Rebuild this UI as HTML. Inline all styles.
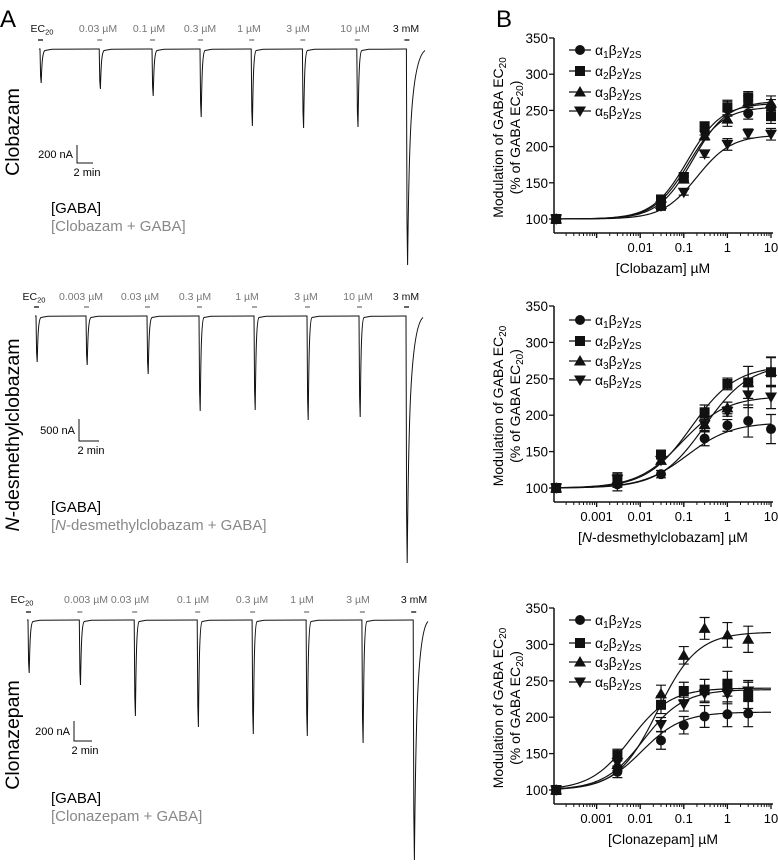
<!DOCTYPE html>
<html><head><meta charset="utf-8"><style>
html,body{margin:0;padding:0;background:#fff;}
svg{display:block;font-family:"Liberation Sans",sans-serif;}
</style></head><body>
<svg id="fig" width="778" height="865" viewBox="0 0 778 865" xmlns="http://www.w3.org/2000/svg">
<text x="0" y="27" font-size="24">A</text>
<text x="496" y="27" font-size="24">B</text>
</svg>
<script>
// ---------- Panel A trace data ----------
const row1Labels = ["EC20","0.03 µM","0.1 µM","0.3 µM","1 µM","3 µM","10 µM","3 mM"];
const row1Onsets = [0,7.4,14,20,26.4,32.8,39.6,45.8];
const row1Peaks = [378,444,522,755,855,877,866,2400];
const row2Labels = ["EC20","0.003 µM","0.03 µM","0.3 µM","1 µM","3 µM","10 µM","3 mM"];
const row2Onsets = [0,5,11.1,16.3,21.8,27.1,32.3,37];
const row2Peaks = [1045,1113,1318,2159,2136,2364,2295,5614];
const row3Labels = ["EC20","0.003 µM","0.03 µM","0.1 µM","0.3 µM","1 µM","3 µM","3 mM"];
const row3Onsets = [0,5.7,11.8,18.8,24.9,30.9,37.1,42.8];
const row3Peaks = [530,650,960,1070,1140,1160,1230,2400];

// ---------- Panel B chart data ----------
const c1Conc = [0.03,0.1,0.3,1,3,10];
const c1A1 = [118,158,222,252,246,255];
const c1A2 = [127,158,228,254,268,242];
const c1A3 = [120,155,215,238,262,260];
const c1A5 = [118,137,190,203,218,217];
const c1Err = [6,5,6,10,8,10];
const c1Top = [255,260,263,216];
const c1EC50 = [0.13,0.12,0.16,0.2];

const c2Conc = [0.003,0.03,0.3,1,3,10];
const c2A1 = [105,119,168,186,192,181];
const c2A2 = [110,146,204,243,245,259];
const c2A3 = [112,138,187,210,245,260];
const c2A5 = [112,138,187,205,228,225];
const c2Err = [9,5,10,8,22,20];
const c2Top = [190,268,270,226];
const c2EC50 = [0.12,0.15,0.3,0.09];

const c3Conc = [0.003,0.03,0.1,0.3,1,3];
const c3A1 = [125,168,189,201,204,205];
const c3A2 = [148,217,236,237,246,230];
const c3A3 = [135,232,285,322,313,307];
const c3A5 = [138,190,218,232,232,236];
const c3Err = [8,12,12,15,17,18];
const c3Top = [207,240,317,238];
const c3EC50 = [0.011,0.006,0.025,0.012];

const yTicks = [100,150,200,250,300,350];
const xTicks = [0.001,0.01,0.1,1,10];
const xTickLabels = ["0.001","0.01","0.1","1","10"];
const legendNames = ["1","2","3","5"];
const controlConc = 0.000118;

const NS = "http://www.w3.org/2000/svg";
const fig = document.getElementById("fig");
function mk(tag, attrs, parent){
  const e = document.createElementNS(NS, tag);
  for (const k in attrs) e.setAttribute(k, attrs[k]);
  (parent||fig).appendChild(e);
  return e;
}

// ---------- Traces ----------
const rows = [
  {labels:row1Labels,onsets:row1Onsets,peaks:row1Peaks,x0:40,pxMin:8,base:49,nApx:200/18,labY:32,barY:40,endX:425,lbl1:[42,98,149,200,249,298,355,406],
   scale:{nA:"200 nA",x:77,y1:145,len:18,w:16},title:"Clobazam",titleY:132,gaba:213,drug:"[Clobazam + GABA]",name:"clobazam"},
  {labels:row2Labels,onsets:row2Onsets,peaks:row2Peaks,x0:36,pxMin:10,base:316,nApx:500/22,labY:300,barY:307,endX:423,lbl1:[34,81,140,195,247,306,358,406],
   scale:{nA:"500 nA",x:79,y1:419,len:22,w:20},title:"N-desmethylclobazam",titleY:435,gaba:512,drug:"N",name:"desmethylclobazam"},
  {labels:row3Labels,onsets:row3Onsets,peaks:row3Peaks,x0:28,pxMin:9,base:620,nApx:10,labY:603,barY:612,endX:428,lbl1:[22,86,130,193,252,302,358,414],
   scale:{nA:"200 nA",x:74,y1:721,len:20,w:18},title:"Clonazepam",titleY:735,gaba:803,drug:"[Clonazepam + GABA]",name:"clonazepam"}
];
rows.forEach((r,ri)=>{
  const g = mk("g",{});
  
  
  let d = "";
  const n = r.onsets.length;
  for (let i=0;i<n;i++){
    const ox = r.x0 + r.onsets[i]*r.pxMin;
    const py = r.base + r.peaks[i]/r.nApx;
    const amp = py - r.base;
    if (i===0) d += "M"+(ox-1)+","+r.base;
    d += " L"+ox+","+r.base+" L"+(ox+0.6)+","+(r.base+amp*0.8)+" L"+(ox+1.2)+","+py;
    if (i<n-1){
      d += " C"+(ox+1.8)+","+(r.base+amp*0.5)+" "+(ox+2.2)+","+(r.base+3)+" "+(ox+5)+","+(r.base+1.5);
      const nx = r.x0 + r.onsets[i+1]*r.pxMin;
      d += " L"+(ox+12)+","+(r.base+0.3)+" L"+(nx-1)+","+r.base;
    } else {
      d += " C"+(ox+2.5)+","+(r.base+amp*0.45)+" "+(ox+4)+","+(r.base+12)+" "+r.endX+","+(r.base+1.5);
    }
    const tx = mk("text",{x:r.lbl1[i],y:r.labY,"font-size":"10.5","text-anchor":"middle",fill:(i===0||i===n-1)?"#111":"#777"},g);
    
    
    if (r.labels[i]==="EC20"){
      tx.textContent="EC";
      const s = mk("tspan",{"font-size":"7.5",dy:"2.5"},tx); s.textContent="20";
    } else tx.textContent = r.labels[i];
    const bar = mk("line",{x1:ox-2,x2:ox+3,y1:r.barY,y2:r.barY,stroke:(i===0||i===n-1)?"#111":"#777","stroke-width":"1.3"},g);
    
    
  }
  const tr = mk("path",{d:d,fill:"none",stroke:"#111","stroke-width":"1"},g);
  
  
  const s = r.scale;
  const sb = mk("path",{d:"M"+s.x+","+s.y1+" V"+(s.y1+s.len)+" H"+(s.x+s.w),fill:"none",stroke:"#111","stroke-width":"1"},g);
  
  
  const st = mk("text",{x:s.x-4,y:s.y1+s.len/2+4,"font-size":"11","text-anchor":"end"},g);
  
  
  st.textContent = s.nA;
  const sm = mk("text",{x:s.x+s.w/2+2,y:s.y1+s.len+13,"font-size":"11","text-anchor":"middle"},g);
  
  
  sm.textContent = "2 min";
  const tt = mk("text",{x:0,y:0,"font-size":"19.5","text-anchor":"middle",transform:"translate(19,"+r.titleY+") rotate(-90)"},g);
  
  
  if (r.title.startsWith("N-")){
    const it = mk("tspan",{"font-style":"italic"},tt); it.textContent="N";
    const rest = mk("tspan",{},tt); rest.textContent="-desmethylclobazam";
  } else tt.textContent = r.title;
  const ga = mk("text",{x:51,y:r.gaba,"font-size":"15"},g);
  
  
  ga.textContent="[GABA]";
  const dr = mk("text",{x:51,y:r.gaba+18,"font-size":"15",fill:"#888"},g);
  
  
  if (r.drug==="N"){
    const a=mk("tspan",{},dr); a.textContent="[";
    const b=mk("tspan",{"font-style":"italic"},dr); b.textContent="N";
    const c=mk("tspan",{},dr); c.textContent="-desmethylclobazam + GABA]";
  } else dr.textContent = r.drug;
});

// ---------- Charts ----------
const charts = [
  {conc:c1Conc,series:[c1A1,c1A2,c1A3,c1A5],err:c1Err,top:c1Top,ec:c1EC50,yTop:38,y100:219,axisY:233,legY:[50,71,92,111],title:"[Clobazam] µM",name:"clobazam",nh:1.1},
  {conc:c2Conc,series:[c2A1,c2A2,c2A3,c2A5],err:c2Err,top:c2Top,ec:c2EC50,yTop:306,y100:488,axisY:502,legY:[320,341,361,380],title:"N",name:"desmethylclobazam",nh:0.85},
  {conc:c3Conc,series:[c3A1,c3A2,c3A3,c3A5],err:c3Err,top:c3Top,ec:c3EC50,yTop:608,y100:790,axisY:804,legY:[620,643,662,682],title:"[Clonazepam] µM",name:"clonazepam",nh:0.95}
];
const xAxisL = 554, xAxisR = 773;
function xScale(v){ return 771 - (1 - Math.log10(v))*43.6; }
function marker(g, type, cx, cy){
  let e;
  if (type===0) e = mk("circle",{cx:cx,cy:cy,r:5,fill:"#111"},g);
  else if (type===1) e = mk("rect",{x:cx-5,y:cy-5,width:10,height:10,fill:"#111"},g);
  else if (type===2) e = mk("polygon",{points:(cx)+","+(cy-6)+" "+(cx+6)+","+(cy+4.5)+" "+(cx-6)+","+(cy+4.5),fill:"#111"},g);
  else e = mk("polygon",{points:(cx)+","+(cy+6)+" "+(cx+6)+","+(cy-4.5)+" "+(cx-6)+","+(cy-4.5),fill:"#111"},g);
  return e;
}
charts.forEach((c)=>{
  const g = mk("g",{});
  
  
  const yScale = v => c.y100 - (v-100)*(c.y100-c.yTop)/250;
  const ya = mk("line",{x1:xAxisL,x2:xAxisL,y1:c.yTop,y2:c.axisY,stroke:"#111","stroke-width":"1.5"},g);
  
  
  const xa = mk("line",{x1:xAxisL,x2:xAxisR,y1:c.axisY,y2:c.axisY,stroke:"#111","stroke-width":"1.5"},g);
  
  
  yTicks.forEach(t=>{
    const y = yScale(t);
    const tk = mk("line",{x1:xAxisL-5,x2:xAxisL,y1:y,y2:y,stroke:"#111","stroke-width":"1.3"},g);
    
    
    const tl = mk("text",{x:xAxisL-6,y:y+5,"font-size":"13.5","text-anchor":"end"},g);
    
    
    tl.textContent = t;
  });
  for (let dec=-4; dec<=0; dec++){
    for (let m=1;m<=9;m++){
      const v = m*Math.pow(10,dec);
      const x = xScale(v);
      if (x < xAxisL) continue;
      const tk = mk("line",{x1:x,x2:x,y1:c.axisY,y2:c.axisY+(m===1?5:3),stroke:"#111","stroke-width":"1"},g);
      
      
    }
  }
  xTicks.forEach((t,i)=>{
    const x = xScale(t);
    const tk = mk("line",{x1:x,x2:x,y1:c.axisY,y2:c.axisY+5,stroke:"#111","stroke-width":"1.3"},g);
    
    
    if (c.name==="clobazam" && i===0) return;
    const tl = mk("text",{x:x,y:c.axisY+19,"font-size":"13","text-anchor":"middle"},g);
    
    
    tl.textContent = xTickLabels[i];
  });
  const xt = mk("text",{x:663,y:c.axisY+40,"font-size":"14","text-anchor":"middle"},g);
  
  
  if (c.title==="N"){
    const a=mk("tspan",{},xt); a.textContent="[";
    const b=mk("tspan",{"font-style":"italic"},xt); b.textContent="N";
    const d=mk("tspan",{},xt); d.textContent="-desmethylclobazam] µM";
  } else xt.textContent = c.title;
  const cy = (c.yTop + c.axisY)/2 + 2;
  const yt1 = mk("text",{x:0,y:0,"font-size":"14","text-anchor":"middle",transform:"translate(503,"+cy+") rotate(-90)"},g);
  
  
  yt1.textContent="Modulation of GABA EC";
  const s1 = mk("tspan",{"font-size":"10",dy:"3"},yt1); s1.textContent="20";
  const yt2 = mk("text",{x:0,y:0,"font-size":"14","text-anchor":"middle",transform:"translate(520,"+cy+") rotate(-90)"},g);
  
  
  yt2.textContent="(% of GABA EC";
  const s2 = mk("tspan",{"font-size":"10",dy:"3"},yt2); s2.textContent="20";
  const s3 = mk("tspan",{dy:"-3"},yt2); s3.textContent=")";
  c.series.forEach((vals,si)=>{
    const sg = mk("g",{},g);
    
    
    let d="";
    for (let k=0;k<=120;k++){
      const lv = Math.log10(controlConc) + k*(Math.log10(10)-Math.log10(controlConc))/120;
      const v = Math.pow(10,lv);
      const yv = 100 + (c.top[si]-100)/(1+Math.pow(c.ec[si]/v,c.nh));
      d += (k?" L":"M")+xScale(v).toFixed(2)+","+yScale(yv).toFixed(2);
    }
    const fit = mk("path",{d:d,fill:"none",stroke:"#111","stroke-width":"1.2"},sg);
    
    
    const c0 = marker(sg, si, xScale(controlConc), yScale(100));
    
    
    vals.forEach((v,k)=>{
      const x = xScale(c.conc[k]), y = yScale(v);
      const e = c.err[k]*(si===3?0.8:1);
      const eb = mk("path",{d:"M"+x+","+yScale(v-e)+" V"+yScale(v+e)+" M"+(x-5)+","+yScale(v+e)+" H"+(x+5)+" M"+(x-5)+","+yScale(v-e)+" H"+(x+5),stroke:"#111","stroke-width":"1.2",fill:"none"},sg);
      
      
      const m = marker(sg, si, x, y);
      
      
    });
    const ly = c.legY[si];
    const lg = mk("g",{},g);
    
    
    const ll = mk("line",{x1:569,x2:591,y1:ly,y2:ly,stroke:"#111","stroke-width":"1.3"},lg);
    
    
    const lm = marker(lg, si, 580, ly);
    
    
    const lt = mk("text",{x:595,y:ly+5,"font-size":"14"},lg);
    
    
    const parts = [["α",0],[legendNames[si],1],["β",0],["2",1],["γ",0],["2S",1]];
    let sub=false;
    parts.forEach(p=>{
      const t = mk("tspan",{},lt);
      if (p[1]){ t.setAttribute("font-size","10"); t.setAttribute("dy","3"); sub=true; }
      else if (sub){ t.setAttribute("dy","-3"); sub=false; }
      t.textContent = p[0];
    });
  });
});
</script>
</body></html>
